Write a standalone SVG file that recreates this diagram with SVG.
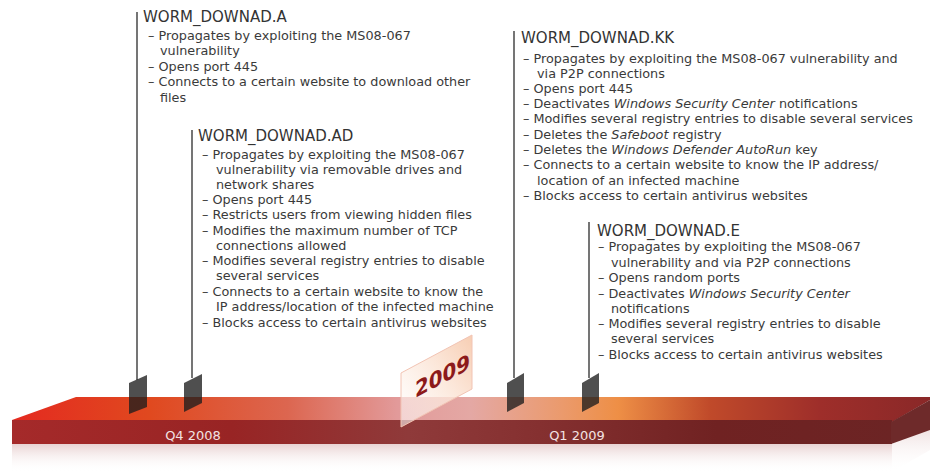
<svg xmlns="http://www.w3.org/2000/svg" width="930" height="476" viewBox="0 0 930 476">
<defs>
<style>
.t{font-family:"DejaVu Sans",Verdana,sans-serif;font-size:15px;fill:#333}
.b{font-family:"DejaVu Sans",Verdana,sans-serif;font-size:12.8px;fill:#3a3a3a}
.q{font-family:"DejaVu Sans",Verdana,sans-serif;font-size:13px;fill:#f3e2e2}
.ln{stroke:#474747;stroke-width:1.5;fill:none}
.mk{fill:#1e1e1e;fill-opacity:0.78}
</style>
<linearGradient id="top" x1="0" y1="0" x2="1" y2="0">
<stop offset="0" stop-color="#e42a20"/>
<stop offset="0.15" stop-color="#e0491f"/>
<stop offset="0.3" stop-color="#dc6650"/>
<stop offset="0.42" stop-color="#e29a9a"/>
<stop offset="0.5" stop-color="#e4a8a4"/>
<stop offset="0.6" stop-color="#eb9a6c"/>
<stop offset="0.66" stop-color="#ee8f46"/>
<stop offset="0.76" stop-color="#c04a2a"/>
<stop offset="0.88" stop-color="#9e2e2a"/>
<stop offset="1" stop-color="#8a2828"/>
</linearGradient>
<linearGradient id="front" x1="0" y1="0" x2="1" y2="0">
<stop offset="0" stop-color="#a52a2a"/>
<stop offset="0.25" stop-color="#982424"/>
<stop offset="0.45" stop-color="#8f3a3a"/>
<stop offset="0.6" stop-color="#853030"/>
<stop offset="0.8" stop-color="#702222"/>
<stop offset="1" stop-color="#6c2424"/>
</linearGradient>
<linearGradient id="refl" x1="0" y1="0" x2="0" y2="1">
<stop offset="0" stop-color="#c08080" stop-opacity="0.35"/>
<stop offset="1" stop-color="#ffffff" stop-opacity="0"/>
</linearGradient>
<linearGradient id="flag" x1="0" y1="1" x2="1" y2="0">
<stop offset="0" stop-color="#ffffff" stop-opacity="0.55"/>
<stop offset="0.6" stop-color="#fbe2d2" stop-opacity="0.85"/>
<stop offset="1" stop-color="#f6c8aa" stop-opacity="0.9"/>
</linearGradient>
</defs>
<rect width="930" height="476" fill="#ffffff"/>

<g id="timeline">
<rect x="12" y="444" width="880" height="28" fill="url(#refl)"/>
<polygon points="892,444 930,420 930,450 892,472" fill="url(#refl)"/>
<polygon points="12,420 76,397 930,397 930,400 892,422" fill="url(#top)"/>
<rect x="12" y="420" width="880" height="24" fill="url(#front)"/>
<polygon points="891,422 930,400 930,430 891,444" fill="#6e2a2a"/>
<text class="q" x="193" y="440" text-anchor="middle">Q4 2008</text>
<text class="q" x="577" y="440" text-anchor="middle">Q1 2009</text>
</g>

<g id="year-2009">
<polygon points="401,373 472,335 472,389 401,427" fill="url(#flag)" stroke="#f2c4b4" stroke-width="1"/>
<text x="0" y="0" transform="translate(415,398) skewY(-28)" font-family="'DejaVu Sans Condensed','DejaVu Sans',sans-serif" font-weight="bold" font-size="22" fill="#8c1a1a">2009</text>
</g>

<g id="connectors">
<line class="ln" x1="137" y1="12" x2="137" y2="380"/>
<line class="ln" x1="192" y1="130" x2="192" y2="378"/>
<line class="ln" x1="514" y1="31" x2="514" y2="378"/>
<line class="ln" x1="589" y1="222" x2="589" y2="378"/>
<polygon class="mk" points="129,383 147,375 147,407 129,414"/>
<polygon class="mk" points="184,383 202,374 202,403 184,412"/>
<polygon class="mk" points="507,383 524,373 524,403 507,412"/>
<polygon class="mk" points="582,383 599,373 599,403 582,412"/>
</g>

<g id="worm-downad-a">
<text class="t" x="143" y="22">WORM_DOWNAD.A</text>
<text class="b" x="148" y="40">– Propagates by exploiting the MS08-067</text>
<text class="b" x="160" y="55">vulnerability</text>
<text class="b" x="148" y="71">– Opens port 445</text>
<text class="b" x="148" y="86">– Connects to a certain website to download other</text>
<text class="b" x="160" y="102">files</text>
</g>

<g id="worm-downad-ad">
<text class="t" x="198" y="141">WORM_DOWNAD.AD</text>
<text class="b" x="202" y="159">– Propagates by exploiting the MS08-067</text>
<text class="b" x="216" y="174">vulnerability via removable drives and</text>
<text class="b" x="216" y="189">network shares</text>
<text class="b" x="202" y="204">– Opens port 445</text>
<text class="b" x="202" y="219">– Restricts users from viewing hidden files</text>
<text class="b" x="202" y="235">– Modifies the maximum number of TCP</text>
<text class="b" x="216" y="250">connections allowed</text>
<text class="b" x="202" y="265">– Modifies several registry entries to disable</text>
<text class="b" x="216" y="280">several services</text>
<text class="b" x="202" y="296">– Connects to a certain website to know the</text>
<text class="b" x="216" y="311">IP address/location of the infected machine</text>
<text class="b" x="202" y="327">– Blocks access to certain antivirus websites</text>
</g>

<g id="worm-downad-kk">
<text class="t" x="521" y="43">WORM_DOWNAD.KK</text>
<text class="b" x="523" y="63">– Propagates by exploiting the MS08-067 vulnerability and</text>
<text class="b" x="537" y="78">via P2P connections</text>
<text class="b" x="523" y="93">– Opens port 445</text>
<text class="b" x="523" y="108">– Deactivates <tspan font-style="italic">Windows Security Center</tspan> notifications</text>
<text class="b" x="523" y="123">– Modifies several registry entries to disable several services</text>
<text class="b" x="523" y="139">– Deletes the <tspan font-style="italic">Safeboot</tspan> registry</text>
<text class="b" x="523" y="154">– Deletes the <tspan font-style="italic">Windows Defender AutoRun</tspan> key</text>
<text class="b" x="523" y="169">– Connects to a certain website to know the IP address/</text>
<text class="b" x="537" y="185">location of an infected machine</text>
<text class="b" x="523" y="200">– Blocks access to certain antivirus websites</text>
</g>

<g id="worm-downad-e">
<text class="t" x="597" y="236">WORM_DOWNAD.E</text>
<text class="b" x="598" y="251">– Propagates by exploiting the MS08-067</text>
<text class="b" x="611" y="267">vulnerability and via P2P connections</text>
<text class="b" x="598" y="282">– Opens random ports</text>
<text class="b" x="598" y="298">– Deactivates <tspan font-style="italic">Windows Security Center</tspan></text>
<text class="b" x="611" y="313">notifications</text>
<text class="b" x="598" y="328">– Modifies several registry entries to disable</text>
<text class="b" x="611" y="343">several services</text>
<text class="b" x="598" y="359">– Blocks access to certain antivirus websites</text>
</g>
</svg>
